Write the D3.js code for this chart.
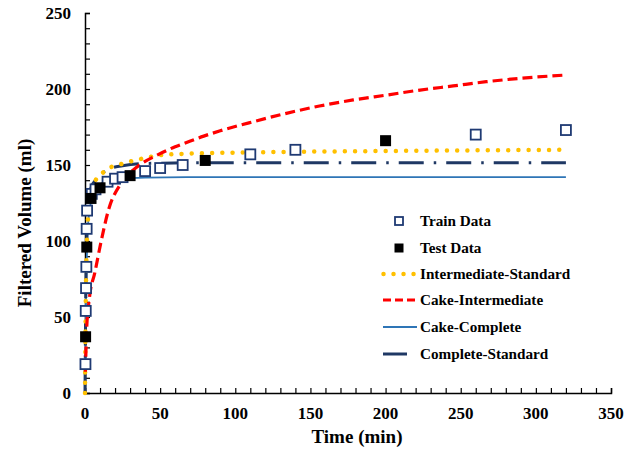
<!DOCTYPE html>
<html>
<head>
<meta charset="utf-8">
<script src="https://cdn.jsdelivr.net/npm/d3@7"></script>
<style>
  body { margin: 0; background: #fff; }
  svg { display: block; }
  text { font-family: "Liberation Serif", "Times New Roman", serif; font-weight: bold; fill: #000; }
</style>
</head>
<body>
<svg id="chart" width="635" height="452"></svg>
<script>
// ---------- data ----------
const trainTime   = [0.3, 0.5, 0.7, 0.9, 1.1, 1.4, 4.5, 7, 15, 20, 25, 40, 50, 65, 110, 140, 260, 320];
const trainVolume = [19, 54, 69, 83, 108, 120, 131, 134, 139, 141, 142, 146, 148, 150, 157, 160, 170, 173];

const testTime   = [0.4, 1.2, 4, 10, 30, 80, 200];
const testVolume = [37, 96, 128, 135, 143, 153, 166];

const intStdTime   = [0, 0.5, 1, 2, 3, 6, 10, 16, 22, 29, 42, 50, 70, 110, 200, 320];
const intStdVolume = [0, 60, 90, 115, 125, 138, 143, 148, 150, 152, 155, 156.5, 157.5, 158.3, 159.2, 160];

const cakeIntTime   = [0.3, 1, 3, 6.5, 11, 15.5, 24, 35, 49, 60, 68, 79, 90, 112, 134, 156, 178.5, 200.7, 223, 245, 267, 289.5, 320];
const cakeIntVolume = [14, 40, 63, 79, 101, 120, 138, 149, 157, 162, 165, 169, 172.5, 178.5, 184, 188.8, 192.8, 196, 199.3, 202, 204.8, 207, 209.2];

const cakeCompTime   = [0, 0.5, 1, 2, 3, 5, 8, 12, 17, 25, 40, 80, 320];
const cakeCompVolume = [0, 50, 80, 110, 120, 129, 135, 138.5, 140.3, 141.2, 141.7, 142, 142];

const compStdTime   = [0, 0.5, 1, 2, 4, 8, 12, 16, 25, 40, 80, 320];
const compStdVolume = [0, 60, 95, 125, 135, 141, 145, 147.5, 149.5, 151, 151.5, 151.5];

const xTickLabels = [0, 50, 100, 150, 200, 250, 300, 350];
const yTickLabels = [0, 50, 100, 150, 200, 250];

const seriesNames = ["Train Data", "Test Data", "Intermediate-Standard", "Cake-Intermediate", "Cake-Complete", "Complete-Standard"];

// ---------- layout ----------
const svg = d3.select("#chart");
const x = d3.scaleLinear().domain([0, 350]).range([85, 611]);
const y = d3.scaleLinear().domain([0, 250]).range([393, 13]);

const navy = "#1F3A73";
const colors = {
  intStd: "#FFC000",
  cakeInt: "#FF0000",
  cakeComp: "#2E75B6",
  compStd: "#1F3864"
};

// axes (ticks inside)
const xAxis = d3.axisBottom(x).tickValues(d3.range(0, 351, 10)).tickSize(-5).tickFormat("");
const yAxis = d3.axisLeft(y).tickValues(d3.range(0, 251, 10)).tickSize(-5).tickFormat("");

const gx = svg.append("g").attr("transform", "translate(0,393)").call(xAxis);
const gy = svg.append("g").attr("transform", "translate(85,0)").call(yAxis);
[gx, gy].forEach(g => {
  g.select(".domain").attr("stroke", "#000").attr("stroke-width", 1.5);
  g.selectAll(".tick line").attr("stroke", "#000").attr("stroke-width", 1.2);
});

// tick labels
svg.append("g").selectAll("text").data(xTickLabels).join("text")
  .attr("x", d => x(d)).attr("y", 419)
  .attr("text-anchor", "middle").attr("font-size", 17)
  .text(d => d);
svg.append("g").selectAll("text").data(yTickLabels).join("text")
  .attr("x", 71).attr("y", d => y(d) + 5.5)
  .attr("text-anchor", "end").attr("font-size", 17)
  .text(d => d);

// axis titles
svg.append("text").attr("x", 357).attr("y", 443).attr("text-anchor", "middle")
  .attr("font-size", 19).text("Time (min)");
svg.append("text").attr("transform", "translate(31,223) rotate(-90)")
  .attr("text-anchor", "middle").attr("font-size", 19).text("Filtered Volume (ml)");

// lines
const line = d3.line().x(d => x(d[0])).y(d => y(d[1])).curve(d3.curveMonotoneX);
const zip = (a, b) => a.map((v, i) => [v, b[i]]);

svg.append("path").datum(zip(cakeCompTime, cakeCompVolume)).attr("d", line)
  .attr("fill", "none").attr("stroke", colors.cakeComp).attr("stroke-width", 1.8);

svg.append("path").datum(zip(compStdTime, compStdVolume)).attr("d", line)
  .attr("fill", "none").attr("stroke", colors.compStd).attr("stroke-width", 3)
  .attr("stroke-dasharray", "25 10 2.5 10");

svg.append("path").datum(zip(intStdTime, intStdVolume)).attr("d", line)
  .attr("fill", "none").attr("stroke", colors.intStd).attr("stroke-width", 4.5)
  .attr("stroke-linecap", "round").attr("stroke-dasharray", "0.01 10.2");

svg.append("path").datum(zip(cakeIntTime, cakeIntVolume)).attr("d", line)
  .attr("fill", "none").attr("stroke", colors.cakeInt).attr("stroke-width", 3.2)
  .attr("stroke-dasharray", "10 5");

// markers
svg.append("g").selectAll("rect").data(zip(trainTime, trainVolume)).join("rect")
  .attr("x", d => x(d[0]) - 5).attr("y", d => y(d[1]) - 5)
  .attr("width", 10).attr("height", 10)
  .attr("fill", "#fff").attr("stroke", navy).attr("stroke-width", 1.8);

svg.append("g").selectAll("rect").data(zip(testTime, testVolume)).join("rect")
  .attr("x", d => x(d[0]) - 5.5).attr("y", d => y(d[1]) - 5.5)
  .attr("width", 11).attr("height", 11)
  .attr("fill", "#000");

// legend
const legY = [221, 248, 274, 300, 327, 354];
const lg = svg.append("g");
seriesNames.forEach((name, i) => {
  lg.append("text").attr("x", 420).attr("y", legY[i] + 5).attr("font-size", 15.2).text(name);
});
lg.append("rect").attr("x", 395).attr("y", legY[0] - 4).attr("width", 8).attr("height", 8)
  .attr("fill", "#fff").attr("stroke", navy).attr("stroke-width", 1.8);
lg.append("rect").attr("x", 394.5).attr("y", legY[1] - 4.5).attr("width", 9).attr("height", 9)
  .attr("fill", "#000");
lg.append("line").attr("x1", 383.5).attr("x2", 414).attr("y1", legY[2]).attr("y2", legY[2])
  .attr("stroke", colors.intStd).attr("stroke-width", 4.5).attr("stroke-linecap", "round")
  .attr("stroke-dasharray", "0.01 10");
lg.append("line").attr("x1", 383).attr("x2", 417).attr("y1", legY[3]).attr("y2", legY[3])
  .attr("stroke", colors.cakeInt).attr("stroke-width", 3.2).attr("stroke-dasharray", "8 4");
lg.append("line").attr("x1", 383).attr("x2", 417).attr("y1", legY[4]).attr("y2", legY[4])
  .attr("stroke", colors.cakeComp).attr("stroke-width", 1.8);
lg.append("line").attr("x1", 383).attr("x2", 407).attr("y1", legY[5]).attr("y2", legY[5])
  .attr("stroke", colors.compStd).attr("stroke-width", 3);
</script>
</body>
</html>
